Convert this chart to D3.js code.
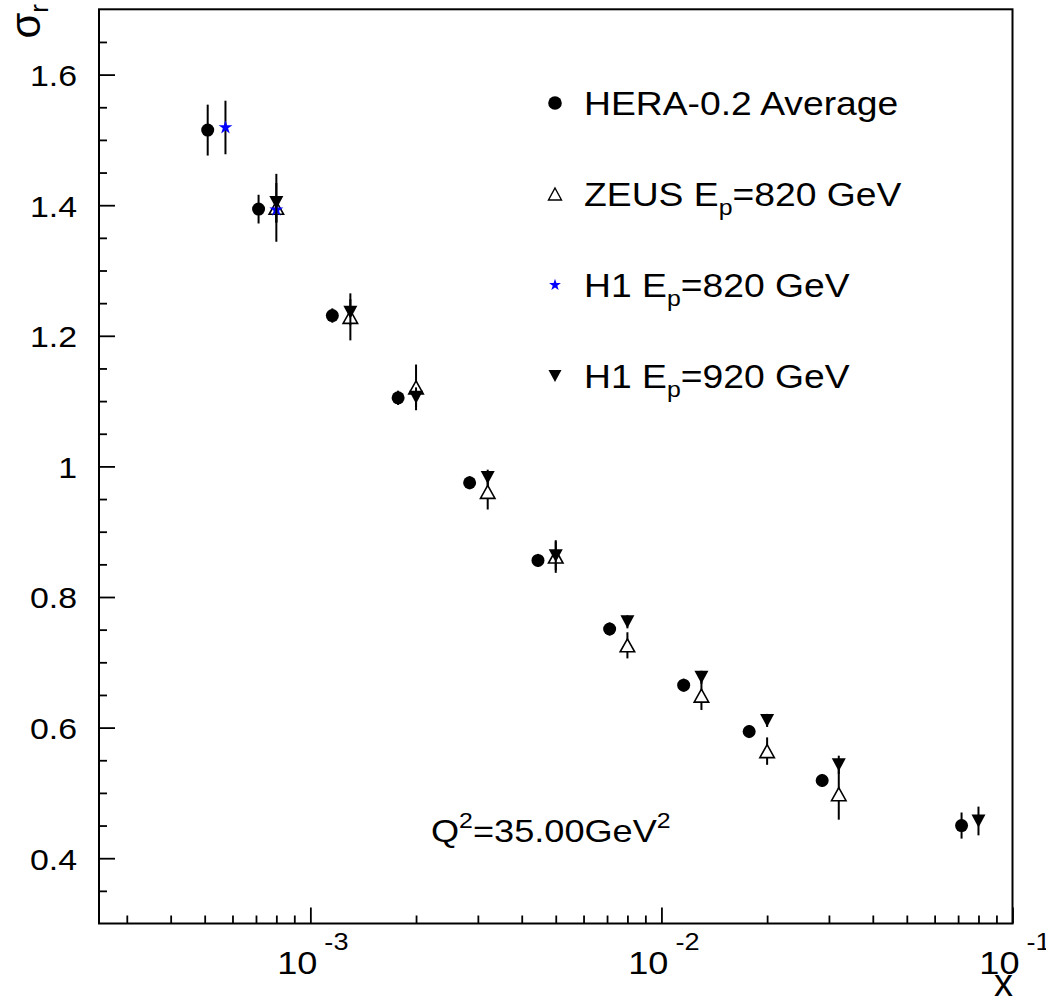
<!DOCTYPE html>
<html>
<head>
<meta charset="utf-8">
<script src="https://cdn.jsdelivr.net/npm/d3@7"></script>
<style>
  body { margin: 0; background: #fff; }
  text { font-family: "Liberation Sans", Arial, sans-serif; fill: #000; }
</style>
</head>
<body>
<div id="chart"></div>
<script>
// HERA-0.2 average (plotted slightly left of the bin centre)
var heraX = [5.10e-4, 7.12e-4, 1.155e-3, 1.778e-3, 2.842e-3, 4.45e-3, 7.12e-3, 1.157e-2, 1.778e-2, 2.87e-2, 7.16e-2];
var heraY = [1.515, 1.394, 1.231, 1.105, 0.975, 0.856, 0.751, 0.665, 0.594, 0.519, 0.450];
var heraErr = [0.039, 0.022, 0.011, 0.011, 0.010, 0.010, 0.010, 0.010, 0.010, 0.010, 0.020];

// ZEUS Ep=820 GeV
var zeusX = [8e-4, 1.3e-3, 2e-3, 3.2e-3, 5e-3, 8e-3, 1.3e-2, 2e-2, 3.2e-2];
var zeusY = [1.396, 1.229, 1.121, 0.961, 0.862, 0.726, 0.649, 0.564, 0.498];
var zeusErr = [0.052, 0.036, 0.035, 0.027, 0.025, 0.020, 0.022, 0.021, 0.039];

// H1 Ep=820 GeV
var h1lowX = [5.73e-4, 8e-4];
var h1lowY = [1.519, 1.393];
var h1lowErr = [0.041, 0.020];

// H1 Ep=920 GeV
var h1highX = [8e-4, 1.3e-3, 2e-3, 3.2e-3, 5e-3, 8e-3, 1.3e-2, 2e-2, 3.2e-2, 8e-2];
var h1highY = [1.404, 1.236, 1.106, 0.983, 0.863, 0.762, 0.677, 0.611, 0.543, 0.457];
var h1highErr = [0.030, 0.020, 0.015, 0.012, 0.022, 0.010, 0.010, 0.010, 0.014, 0.022];

var yTickValues = [0.4, 0.6, 0.8, 1.0, 1.2, 1.4, 1.6];
var yTickLabels = ["0.4", "0.6", "0.8", "1", "1.2", "1.4", "1.6"];
var xTickValues = [1e-3, 1e-2, 1e-1];
var xTickExponents = ["-3", "-2", "-1"];
var legendLabels = [
    ["HERA-0.2 Average", "", ""],
    ["ZEUS E", "p", "=820 GeV"],
    ["H1 E", "p", "=820 GeV"],
    ["H1 E", "p", "=920 GeV"]
];

var W = 1046, H = 997;
var SX = 1.13; // text in the reference is a bit wider than the font

var svg = d3.select("#chart").append("svg")
    .attr("width", W)
    .attr("height", H)
    .style("display", "block");
svg.append("rect").attr("width", W).attr("height", H).attr("fill", "#fff");

var x = d3.scaleLog().domain([2.5e-4, 0.1]).range([99, 1012.5]);
var y = d3.scaleLinear().domain([0.3, 1.7]).range([923.5, 9.3]);

// minor ticks
var yMinor = d3.range(0.35, 1.7, 0.05).filter(function(v) {
    return yTickValues.every(function(t) { return Math.abs(t - v) > 1e-6; });
});
var xMinor = [];
[1e-4, 1e-3, 1e-2].forEach(function(dec) {
    d3.range(2, 10).forEach(function(m) {
        var v = m * dec;
        if (v > 2.5e-4 && v < 0.1) xMinor.push(v);
    });
});

// Y axis
var yAxis = svg.append("g")
    .attr("transform", "translate(99,0)")
    .call(d3.axisLeft(y).tickValues(yTickValues).tickSize(-16).tickSizeOuter(0).tickPadding(23)
        .tickFormat(function(d, i) { return yTickLabels[i]; }));
yAxis.select(".domain").remove();
yAxis.selectAll("line").attr("stroke-width", 1.8);
yAxis.selectAll("text")
    .attr("x", 0)
    .attr("dy", "0.36em")
    .attr("transform", "translate(-22,0) scale(" + SX + ",1)")
    .style("font-size", "30px")
    .style("font-family", "Liberation Sans, Arial, sans-serif");

var yAxisMinor = svg.append("g")
    .attr("transform", "translate(99,0)")
    .call(d3.axisLeft(y).tickValues(yMinor).tickSize(-8).tickSizeOuter(0).tickFormat(""));
yAxisMinor.select(".domain").remove();
yAxisMinor.selectAll("line").attr("stroke-width", 1.8);

// X axis
var xAxis = svg.append("g")
    .attr("transform", "translate(0,923.5)")
    .call(d3.axisBottom(x).tickValues(xTickValues).tickSize(-16).tickSizeOuter(0).tickFormat(""));
xAxis.select(".domain").remove();
xAxis.selectAll("line").attr("stroke-width", 1.8);

var xAxisMinor = svg.append("g")
    .attr("transform", "translate(0,923.5)")
    .call(d3.axisBottom(x).tickValues(xMinor).tickSize(-8).tickSizeOuter(0).tickFormat(""));
xAxisMinor.select(".domain").remove();
xAxisMinor.selectAll("line").attr("stroke-width", 1.8);

// x tick labels 10^n
xTickValues.forEach(function(v, i) {
    var px = x(v);
    svg.append("text")
        .attr("transform", "translate(" + (px + 7) + ",974) scale(" + SX + ",1)")
        .attr("text-anchor", "end")
        .style("font-size", "32px")
        .text("10");
    svg.append("text")
        .attr("transform", "translate(" + (px + 14) + ",950) scale(" + SX + ",1)")
        .attr("text-anchor", "start")
        .style("font-size", "24px")
        .text(xTickExponents[i]);
});

// frame
svg.append("rect")
    .attr("x", 99).attr("y", 9.3)
    .attr("width", 1012.5 - 99).attr("height", 923.5 - 9.3)
    .attr("fill", "none")
    .attr("stroke", "#000")
    .attr("stroke-width", 2);

// axis titles
var yTitle = svg.append("text")
    .attr("transform", "translate(40,4) rotate(-90)")
    .attr("text-anchor", "end")
    .style("font-size", "42px");
yTitle.append("tspan").text("\u03c3");
yTitle.append("tspan").attr("dy", 8).style("font-size", "26px").text("r");

svg.append("text")
    .attr("x", 1013).attr("y", 996)
    .attr("text-anchor", "end")
    .style("font-size", "38px")
    .text("x");

// marker paths
function triUp(w, h) { return "M0," + (-h / 2) + "L" + (w / 2) + "," + (h / 2) + "L" + (-w / 2) + "," + (h / 2) + "Z"; }
function triDown(w, h) { return "M0," + (h / 2) + "L" + (w / 2) + "," + (-h / 2) + "L" + (-w / 2) + "," + (-h / 2) + "Z"; }
var starPath = d3.symbol().type(d3.symbolStar).size(60)();
var starLegend = d3.symbol().type(d3.symbolStar).size(44)();

function drawErrors(xs, ys, es) {
    svg.append("g").selectAll("line")
        .data(xs)
        .enter().append("line")
        .attr("x1", function(d) { return x(d); })
        .attr("x2", function(d) { return x(d); })
        .attr("y1", function(d, i) { return y(ys[i] + es[i]); })
        .attr("y2", function(d, i) { return y(ys[i] - es[i]); })
        .attr("stroke", "#000")
        .attr("stroke-width", 2);
}

function drawMarkers(xs, ys, path, fill, stroke, sw) {
    svg.append("g").selectAll("path")
        .data(xs)
        .enter().append("path")
        .attr("transform", function(d, i) { return "translate(" + x(d) + "," + y(ys[i]) + ")"; })
        .attr("d", path)
        .attr("fill", fill)
        .attr("stroke", stroke)
        .attr("stroke-width", sw);
}

// ZEUS
drawErrors(zeusX, zeusY, zeusErr);
drawMarkers(zeusX, zeusY, triUp(14.5, 13), "#fff", "#000", 1.6);
// H1 820
drawErrors(h1lowX, h1lowY, h1lowErr);
drawMarkers(h1lowX, h1lowY, starPath, "#0000ff", "none", 0);
// H1 920
drawErrors(h1highX, h1highY, h1highErr);
drawMarkers(h1highX, h1highY, triDown(14, 13), "#000", "none", 0);
// HERA average
drawErrors(heraX, heraY, heraErr);
svg.append("g").selectAll("circle")
    .data(heraX)
    .enter().append("circle")
    .attr("cx", function(d) { return x(d); })
    .attr("cy", function(d, i) { return y(heraY[i]); })
    .attr("r", 6.5)
    .attr("fill", "#000");

// legend
var legend = svg.append("g");
legendLabels.forEach(function(lab, i) {
    var by = 115 + i * 91;
    var my = by - 12;
    if (i === 0) {
        legend.append("circle").attr("cx", 555).attr("cy", my).attr("r", 6.8).attr("fill", "#000");
    } else if (i === 1) {
        legend.append("path").attr("transform", "translate(555," + my + ")")
            .attr("d", triUp(13, 12)).attr("fill", "#fff").attr("stroke", "#000").attr("stroke-width", 1.4);
    } else if (i === 2) {
        legend.append("path").attr("transform", "translate(555," + my + ")")
            .attr("d", starLegend).attr("fill", "#0000ff");
    } else {
        legend.append("path").attr("transform", "translate(555," + my + ")")
            .attr("d", triDown(13, 12)).attr("fill", "#000");
    }
    var t = legend.append("text")
        .attr("transform", "translate(584," + by + ") scale(" + SX + ",1)")
        .style("font-size", "33px");
    t.append("tspan").text(lab[0]);
    if (lab[1]) {
        t.append("tspan").attr("dy", 9).style("font-size", "22px").text(lab[1]);
        t.append("tspan").attr("dy", -9).text(lab[2]);
    }
});

// Q^2 label
var q = svg.append("text")
    .attr("transform", "translate(431,842) scale(" + SX + ",1)")
    .style("font-size", "32px");
q.append("tspan").text("Q");
q.append("tspan").attr("dy", -14).style("font-size", "22px").text("2");
q.append("tspan").attr("dy", 14).text("=35.00GeV");
q.append("tspan").attr("dy", -14).style("font-size", "22px").text("2");
</script>
</body>
</html>
